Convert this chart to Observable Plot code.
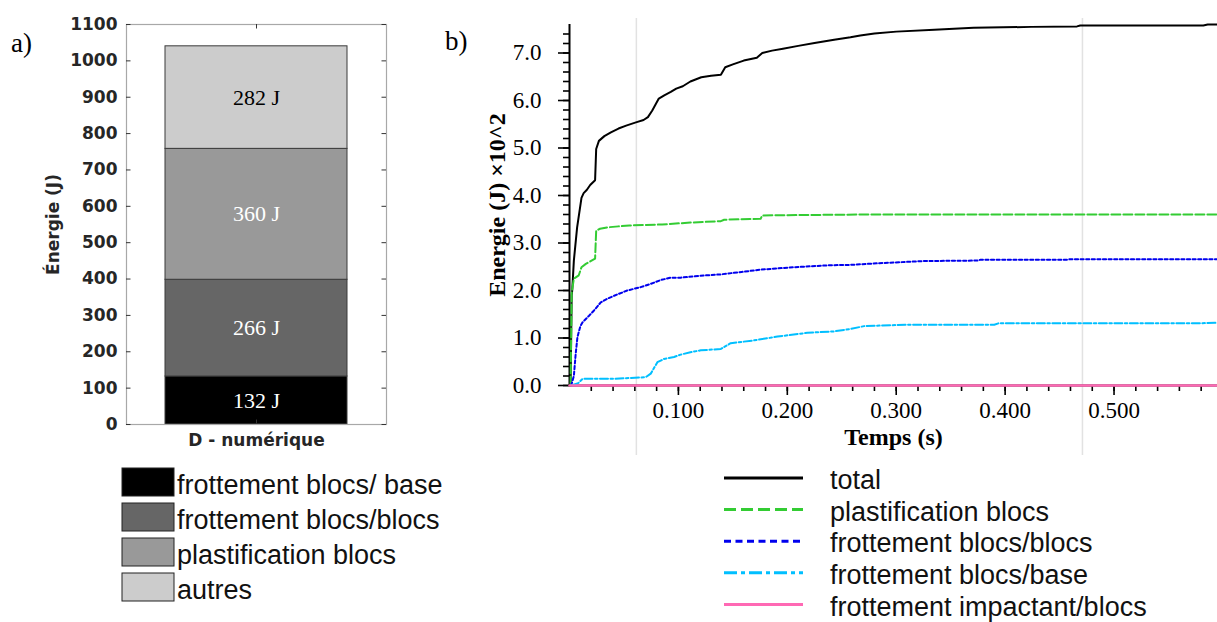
<!DOCTYPE html>
<html><head><meta charset="utf-8">
<script src="https://cdn.jsdelivr.net/npm/d3@7"></script>
<script src="https://cdn.jsdelivr.net/npm/@observablehq/plot@0.6"></script>
<style>
body{margin:0;background:#fff;}
#root{position:relative;width:1217px;height:622px;overflow:hidden;background:#fff;}
#root > svg{position:absolute;}
</style></head><body><div id="root"></div>
<script>
// ---------- DATA: panel a (stacked bar) ----------
const barCategory = "D - numérique";
const barSeries = ["frottement blocs/ base", "frottement blocs/blocs", "plastification blocs", "autres"];
const barValues = [132, 266, 360, 282];
const barYTicks = [0, 100, 200, 300, 400, 500, 600, 700, 800, 900, 1000, 1100];
const barYLabel = "Énergie (J)";

// ---------- DATA: panel b (energy vs time, E in 10^2 J) ----------
const totalT = [0, 0.001, 0.002, 0.0025, 0.004, 0.007, 0.011, 0.013, 0.016, 0.019, 0.0235, 0.0245, 0.027, 0.032, 0.038, 0.045, 0.052, 0.061, 0.068, 0.072, 0.076, 0.082, 0.087, 0.093, 0.098, 0.104, 0.111, 0.121, 0.130, 0.139, 0.143, 0.150, 0.160, 0.172, 0.177, 0.186, 0.196, 0.210, 0.225, 0.243, 0.258, 0.267, 0.280, 0.300, 0.335, 0.371, 0.424, 0.466, 0.469, 0.582, 0.586, 0.595];
const totalE = [0, 0, 1.9, 2.0, 2.63, 3.33, 3.95, 4.05, 4.12, 4.22, 4.32, 4.98, 5.15, 5.25, 5.33, 5.41, 5.47, 5.54, 5.59, 5.65, 5.79, 6.04, 6.11, 6.18, 6.25, 6.30, 6.40, 6.49, 6.52, 6.54, 6.70, 6.76, 6.84, 6.90, 7.00, 7.05, 7.09, 7.15, 7.21, 7.28, 7.33, 7.37, 7.41, 7.45, 7.49, 7.53, 7.55, 7.56, 7.58, 7.58, 7.60, 7.60];

const plastT = [0.001, 0.002, 0.004, 0.0085, 0.011, 0.015, 0.0235, 0.0245, 0.028, 0.035, 0.045, 0.055, 0.085, 0.111, 0.139, 0.142, 0.1755, 0.177, 0.267, 0.595];
const plastE = [0, 1.95, 2.25, 2.32, 2.49, 2.56, 2.67, 3.26, 3.30, 3.33, 3.35, 3.37, 3.39, 3.43, 3.46, 3.49, 3.51, 3.58, 3.60, 3.60];

const blocsT = [0.0015, 0.004, 0.0057, 0.0073, 0.010, 0.012, 0.018, 0.0225, 0.0287, 0.035, 0.041, 0.053, 0.0654, 0.0746, 0.0837, 0.093, 0.102, 0.120, 0.139, 0.158, 0.1756, 0.206, 0.237, 0.258, 0.289, 0.3255, 0.3745, 0.3776, 0.457, 0.460, 0.595];
const blocsE = [0, 0.2, 0.67, 1.02, 1.25, 1.33, 1.47, 1.58, 1.75, 1.83, 1.89, 2.0, 2.07, 2.14, 2.22, 2.27, 2.27, 2.31, 2.34, 2.39, 2.44, 2.49, 2.53, 2.54, 2.58, 2.62, 2.63, 2.65, 2.65, 2.66, 2.66];

const baseT = [0.0015, 0.008, 0.012, 0.038, 0.070, 0.0746, 0.0807, 0.0868, 0.096, 0.102, 0.111, 0.1205, 0.139, 0.148, 0.1694, 0.191, 0.2185, 0.243, 0.258, 0.2705, 0.31, 0.39, 0.394, 0.5775, 0.595];
const baseE = [0, 0.05, 0.14, 0.14, 0.175, 0.25, 0.49, 0.56, 0.60, 0.65, 0.70, 0.74, 0.77, 0.89, 0.95, 1.03, 1.11, 1.14, 1.19, 1.25, 1.28, 1.28, 1.31, 1.31, 1.32];

const impT = [0, 0.595];
const impE = [0, 0];

const lineNames = ["total", "plastification blocs", "frottement blocs/blocs", "frottement blocs/base", "frottement impactant/blocs"];
const lineXTicks = [0.1, 0.2, 0.3, 0.4, 0.5];
const lineYTicks = [0, 1, 2, 3, 4, 5, 6, 7];
const gridTimes = [0.0614, 0.471];
const lineXLabel = "Temps (s)";
const lineYLabel = "Energie (J) ×10^2";

// ---------- STYLES ----------
const barFills = ["#000000", "#666666", "#999999", "#cccccc"];
const barTextFills = ["#ffffff", "#ffffff", "#ffffff", "#000000"];
const lineStyles = [
  {stroke: "#000000", width: 2, dash: null, legendDash: null},
  {stroke: "#33cc33", width: 2, dash: "9,3", legendDash: "12,5"},
  {stroke: "#0000ee", width: 2, dash: "3.2,2.4", legendDash: "7,4.5"},
  {stroke: "#00bfff", width: 2, dash: "8,2.5,2.5,2.5", legendDash: "13,4,4,4"},
  {stroke: "#ff69b4", width: 2.5, dash: null, legendDash: null}
];

const root = document.getElementById("root");

// ---------- Panel a ----------
const barRows = barSeries.map((s, i) => ({cat: barCategory, name: s, value: barValues[i], tf: barTextFills[i]}));
const aW = 400, aH = 460, aML = 126, aMR = 14, aMT = 24, aMB = 36;
const aFW = aW - aML - aMR, aFH = aH - aMT - aMB;
const plotA = Plot.plot({
  width: aW, height: aH, marginLeft: aML, marginRight: aMR, marginTop: aMT, marginBottom: aMB,
  x: {domain: [barCategory], padding: 0.1746, label: null},
  y: {domain: [0, 1100], label: null},
  color: {domain: barSeries, range: barFills},
  style: {fontFamily: "DejaVu Sans", background: "transparent", overflow: "visible", color: "#262626"},
  marks: [
    Plot.barY(barRows, {x: "cat", y: "value", fill: "name", stroke: "#3a3a3a", strokeWidth: 1}),
    Plot.text(barRows, Plot.stackY({x: "cat", y: "value", text: d => `${d.value} J`, fill: "tf", fontFamily: "Liberation Serif", fontSize: 22})),
    Plot.frame({stroke: "#a8a8a8", strokeWidth: 1.2}),
    Plot.tickY(barYTicks, {y: d => d, insetRight: aFW - 4.5, stroke: "#333", strokeWidth: 1}),
    Plot.tickY(barYTicks, {y: d => d, insetLeft: aFW - 4.5, stroke: "#333", strokeWidth: 1}),
    Plot.tickX([barCategory], {x: d => d, insetBottom: aFH - 4.5, stroke: "#333"}),
    Plot.tickX([barCategory], {x: d => d, insetTop: aFH - 4.5, stroke: "#333"}),
    Plot.axisY(barYTicks, {tickSize: 0, tickPadding: 9, tickFormat: d => String(d), fontSize: 17, fontWeight: "bold", label: null}),
    Plot.axisX({tickSize: 0, tickPadding: 9, fontSize: 17, fontWeight: "bold", label: null}),
    Plot.text([barYLabel], {frameAnchor: "left", dx: -73, rotate: -90, textAnchor: "middle", lineAnchor: "middle", fontSize: 17, fontWeight: "bold"})
  ]
});
plotA.style.left = "0px"; plotA.style.top = "0px";
root.appendChild(plotA);

// ---------- Panel b ----------
const seriesT = [totalT, plastT, blocsT, baseT, impT];
const seriesE = [totalE, plastE, blocsE, baseE, impE];
const lineMarks = lineNames.map((n, k) => {
  const rows = seriesT[k].map((t, i) => ({t, e: seriesE[k][i]}));
  const st = lineStyles[k];
  return Plot.line(rows, {x: "t", y: "e", stroke: st.stroke, strokeWidth: st.width, strokeDasharray: st.dash});
});
const yMinor = d3.range(0, 7.5, 0.2);
const xMinor = d3.range(0.02, 0.595, 0.02);
const plotB = Plot.plot({
  width: 777, height: 460, marginLeft: 129, marginRight: 0, marginTop: 24, marginBottom: 75,
  x: {domain: [0, 0.595], label: null},
  y: {domain: [0, 7.6], label: null},
  style: {fontFamily: "Liberation Serif", background: "transparent", overflow: "visible", color: "#000"},
  marks: [
    Plot.ruleX(gridTimes, {x: d => d, stroke: "#e2e2e2", strokeWidth: 1.5, insetTop: -6, insetBottom: -70}),
    Plot.axisY(lineYTicks, {tickSize: 11, tickPadding: 17, tickFormat: d3.format(".1f"), fontSize: 23, strokeWidth: 1.6, label: null}),
    Plot.axisY(yMinor, {tickSize: 6, tickFormat: () => "", strokeWidth: 1.6, label: null}),
    Plot.axisX(lineXTicks, {tickSize: 10, tickPadding: 6, tickFormat: d3.format(".3f"), fontSize: 23, strokeWidth: 1.6, label: null}),
    Plot.axisX(xMinor, {tickSize: 6, tickFormat: () => "", strokeWidth: 1.6, label: null}),
    Plot.ruleY([0], {stroke: "#000", strokeWidth: 2}),
    Plot.ruleX([0], {stroke: "#000", strokeWidth: 2}),
    ...lineMarks,
    Plot.text([lineYLabel], {frameAnchor: "left", dx: -72, rotate: -90, textAnchor: "middle", lineAnchor: "middle", fontSize: 24, fontWeight: "bold"}),
    Plot.text([lineXLabel], {frameAnchor: "bottom", dy: 52, textAnchor: "middle", lineAnchor: "middle", fontSize: 24, fontWeight: "bold"})
  ]
});
plotB.style.left = "440px"; plotB.style.top = "0px";
root.appendChild(plotB);

// ---------- Overlay: panel tags and legends ----------
const ov = d3.select(root).append("svg").attr("width", 1217).attr("height", 622)
  .style("left", "0px").style("top", "0px").style("pointer-events", "none");
ov.append("text").attr("x", 11).attr("y", 52).attr("font-family", "Liberation Serif").attr("font-size", 27).text("a)");
ov.append("text").attr("x", 445).attr("y", 50).attr("font-family", "Liberation Serif").attr("font-size", 27).text("b)");

// legend a
barSeries.forEach((s, i) => {
  const cy = 482 + i * 35;
  ov.append("rect").attr("x", 122).attr("y", cy - 14).attr("width", 52).attr("height", 28)
    .attr("fill", barFills[i]).attr("stroke", "#222").attr("stroke-width", 1);
  ov.append("text").attr("x", 177).attr("y", cy + 11.5).attr("font-family", "Liberation Sans")
    .attr("font-size", 27).attr("fill", "#111").text(s);
});
// legend b
lineNames.forEach((n, i) => {
  const cy = 478 + i * 31.6;
  const st = lineStyles[i];
  ov.append("line").attr("x1", 724).attr("x2", 803).attr("y1", cy).attr("y2", cy)
    .attr("stroke", st.stroke).attr("stroke-width", 3).attr("stroke-dasharray", st.legendDash);
  ov.append("text").attr("x", 830).attr("y", cy + 11.2).attr("font-family", "Liberation Sans")
    .attr("font-size", 27).attr("fill", "#111").text(n);
});
</script></body></html>
